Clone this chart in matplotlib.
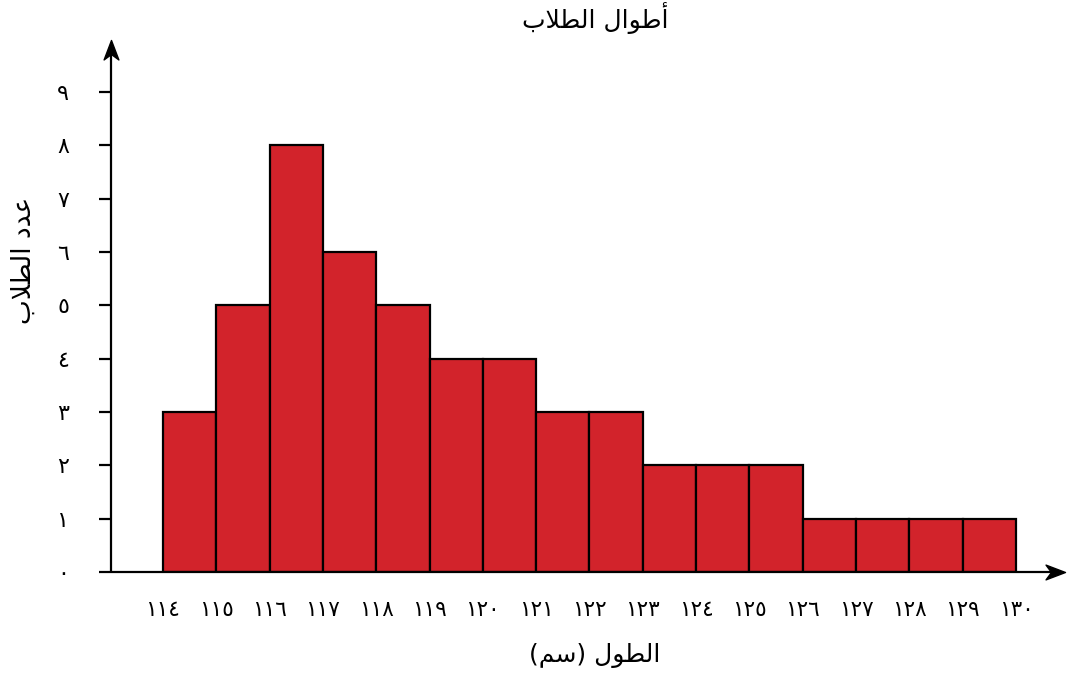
import matplotlib
matplotlib.use("Agg")
import matplotlib.pyplot as plt
from matplotlib.path import Path

# Data
bin_edges = [114, 115, 116, 117, 118, 119, 120, 121, 122, 123, 124, 125, 126, 127, 128, 129, 130]
counts = [3, 5, 8, 6, 5, 4, 4, 3, 3, 2, 2, 2, 1, 1, 1, 1]
y_ticks = list(range(0, 10))

AR_DIGITS = "٠١٢٣٤٥٦٧٨٩"
def ar_num(n):
    return "".join(AR_DIGITS[int(c)] for c in str(n))

x_labels = [ar_num(v) for v in bin_edges]
y_labels = [ar_num(v) for v in y_ticks]

# Pre-shaped (presentation forms), visual order
title_text = "\uFE8F\uFEFC\uFEC4\uFEDF\uFE8D \uFEDD\uFE8D\uFEEE\uFEC3\uFE83"   # أطوال الطلاب
ylabel_text = "\uFE8F\uFEFC\uFEC4\uFEDF\uFE8D \uFEA9\uFEAA\uFECB"          # عدد الطلاب
xlabel_text = "(\uFEE2\uFEB3) \uFEDD\uFEEE\uFEC4\uFEDF\uFE8D"              # الطول (سم)

plt.rcParams['font.family'] = ['DejaVu Sans']

W, H = 1081, 682
fig = plt.figure(figsize=(W / 100, H / 100), dpi=100)
ax = fig.add_axes([111 / W, 110 / H, (1065 - 111) / W, (572 - 40) / H])

xmin, xmax = 113.025, 130.92
ymin, ymax = 0, 9.975
ax.set_xlim(xmin, xmax)
ax.set_ylim(ymin, ymax)

widths = [bin_edges[i + 1] - bin_edges[i] for i in range(len(counts))]
ax.bar(bin_edges[:-1], counts, width=widths, align='edge',
       color='#d2232b', edgecolor='black', linewidth=1.6, zorder=2)

for s in ax.spines.values():
    s.set_visible(False)

# axis lines
ax.plot([xmin, xmax - 0.15], [0, 0], color='black', lw=1.6, clip_on=False, zorder=3,
        solid_capstyle='butt')
ax.plot([xmin, xmin], [0, ymax - 0.15], color='black', lw=1.6, clip_on=False, zorder=3,
        solid_capstyle='butt')

# stealth arrowheads
head_r = Path([(0, 0), (-1, 0.38), (-0.72, 0), (-1, -0.38), (0, 0)],
              [Path.MOVETO, Path.LINETO, Path.LINETO, Path.LINETO, Path.CLOSEPOLY])
head_u = Path([(0, 0), (0.38, -1), (0, -0.72), (-0.38, -1), (0, 0)],
              [Path.MOVETO, Path.LINETO, Path.LINETO, Path.LINETO, Path.CLOSEPOLY])
ax.plot([xmax], [0], marker=head_r, markersize=28, color='black', clip_on=False, zorder=4)
ax.plot([xmin], [ymax], marker=head_u, markersize=28, color='black', clip_on=False, zorder=4)

ax.set_yticks(y_ticks)
ax.set_yticklabels(y_labels, fontsize=16)
ax.tick_params(axis='y', length=9, width=1.6, pad=21)
ax.set_xticks(bin_edges)
ax.set_xticklabels(x_labels, fontsize=15.5)
ax.tick_params(axis='x', length=0, pad=20)

fig.text(595 / W, 1 - 18 / H, title_text, ha='center', va='center', fontsize=18)
fig.text(595 / W, 1 - 655 / H, xlabel_text, ha='center', va='center', fontsize=18)
fig.text(24 / W, 1 - 260 / H, ylabel_text, ha='center', va='center', fontsize=19, rotation=90)

fig.savefig("out.png", dpi=100)
